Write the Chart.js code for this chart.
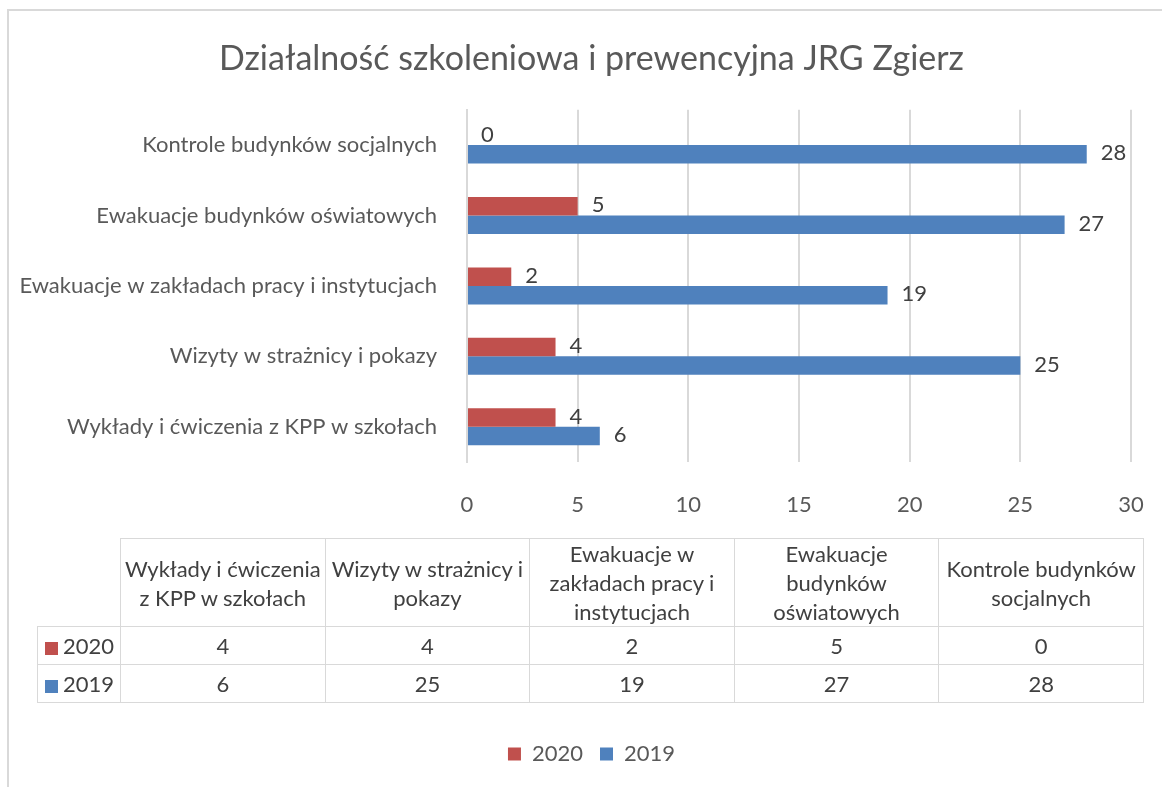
<!DOCTYPE html>
<html lang="pl">
<head>
<meta charset="utf-8">
<title>Działalność szkoleniowa i prewencyjna JRG Zgierz</title>
<script src="https://cdn.jsdelivr.net/npm/chart.js@4.4.0/dist/chart.umd.min.js"></script>
<style>
    html, body { margin: 0; padding: 0; background: #fff; }
    #wrap { position: relative; width: 1162px; height: 787px; overflow: hidden; font-family: Lato, sans-serif; }
    #frame { position: absolute; left: 7px; top: 9px; width: 1200px; height: 800px; border-left: 2px solid #d9d9d9; border-top: 2px solid #d9d9d9; }
    #chart { position: absolute; left: 0; top: 0; }
    #dataTable { position: absolute; left: 37px; top: 538px; width: 1107px; border-collapse: collapse; table-layout: fixed; color: #404040; font-size: 22px; }
    #dataTable td { border: 1px solid #d9d9d9; text-align: center; vertical-align: middle; padding: 0 1px; line-height: 29px; }
    #dataTable tr.head td { height: 86px; }
    #dataTable tr.row td { height: 37px; }
    #dataTable td.corner { border-top: none; border-left: none; }
    #dataTable td.series { text-align: left; padding-left: 7px; white-space: nowrap; }
    .key { display: inline-block; width: 13px; height: 13px; margin-right: 5px; vertical-align: -1px; }
</style>
</head>
<body>
<div id="wrap">
    <div id="frame"></div>
    <canvas id="chart" width="1162" height="787"></canvas>
    <table id="dataTable"></table>
</div>
<script>
// dane
const categories = [
    'Wykłady i ćwiczenia z KPP w szkołach',
    'Wizyty w strażnicy i pokazy',
    'Ewakuacje w zakładach pracy i instytucjach',
    'Ewakuacje budynków oświatowych',
    'Kontrole budynków socjalnych'
];
const values2020 = [4, 4, 2, 5, 0];
const values2019 = [6, 25, 19, 27, 28];
const seriesNames = ['2020', '2019'];
const seriesColors = ['#c0504d', '#4f81bd'];
const xTicks = [0, 5, 10, 15, 20, 25, 30];

const textColor = '#595959';
const gridColor = '#d9d9d9';

// etykiety wartości przy słupkach
const valueLabels = {
    id: 'valueLabels',
    afterDatasetsDraw(chart) {
        const ctx = chart.ctx;
        ctx.save();
        ctx.font = '22px Lato';
        ctx.fillStyle = '#404040';
        ctx.textAlign = 'left';
        ctx.textBaseline = 'middle';
        chart.data.datasets.forEach((ds, i) => {
            chart.getDatasetMeta(i).data.forEach((bar, j) => {
                ctx.fillText(String(ds.data[j]), bar.x + 14, bar.y - 1);
            });
        });
        ctx.restore();
    }
};

// długie etykiety osi Y nie mogą być przycinane do wąskiego pola osi
const unclipY = {
    id: 'unclipY',
    afterLayout(chart) {
        chart.scales.y.left = 0;
    }
};

window.onload = function() {
    const ctx = document.getElementById('chart').getContext('2d');
    new Chart(ctx, {
        type: 'bar',
        data: {
            labels: categories,
            datasets: [{
                label: seriesNames[0],
                data: values2020,
                backgroundColor: seriesColors[0]
            }, {
                label: seriesNames[1],
                data: values2019,
                backgroundColor: seriesColors[1]
            }]
        },
        options: {
            indexAxis: 'y',
            responsive: false,
            animation: false,
            categoryPercentage: 0.525,
            barPercentage: 1.0,
            layout: { padding: { top: 4, right: 31, bottom: 12, left: 52 } },
            scales: {
                x: {
                    min: 0,
                    max: 30,
                    afterBuildTicks: axis => { axis.ticks = xTicks.map(v => ({ value: v })); },
                    afterFit: axis => { axis.height = 264; },
                    grid: { color: gridColor, lineWidth: 2, drawTicks: true, tickLength: 18, tickColor: 'rgba(0,0,0,0)' },
                    border: { display: false },
                    ticks: { color: textColor, font: { family: 'Lato', size: 22 }, padding: 12 }
                },
                y: {
                    reverse: true,
                    afterFit: axis => { axis.width = 415; },
                    grid: { display: false },
                    border: { color: gridColor, width: 2 },
                    ticks: { color: textColor, font: { family: 'Lato', size: 22 }, padding: 22 }
                }
            },
            plugins: {
                title: {
                    display: true,
                    text: 'Działalność szkoleniowa i prewencyjna JRG Zgierz',
                    color: textColor,
                    font: { family: 'Lato', size: 34, weight: 'normal' },
                    padding: { top: 35, bottom: 30 }
                },
                legend: {
                    position: 'bottom',
                    labels: {
                        color: textColor,
                        font: { family: 'Lato', size: 22 },
                        boxWidth: 13,
                        boxHeight: 13,
                        padding: 17
                    }
                },
                tooltip: { enabled: false }
            }
        },
        plugins: [valueLabels, unclipY]
    });

    // tabela danych pod wykresem
    const table = document.getElementById('dataTable');
    let html = '<colgroup><col style="width:83px">' + categories.map(() => '<col>').join('') + '</colgroup>';
    html += '<tr class="head"><td class="corner"></td>' + categories.map(c => '<td>' + c + '</td>').join('') + '</tr>';
    [values2020, values2019].forEach((vals, i) => {
        html += '<tr class="row"><td class="series"><span class="key" style="background:' + seriesColors[i] + '"></span>' + seriesNames[i] + '</td>' +
            vals.map(v => '<td>' + v + '</td>').join('') + '</tr>';
    });
    table.innerHTML = html;
};
</script>
</body>
</html>
